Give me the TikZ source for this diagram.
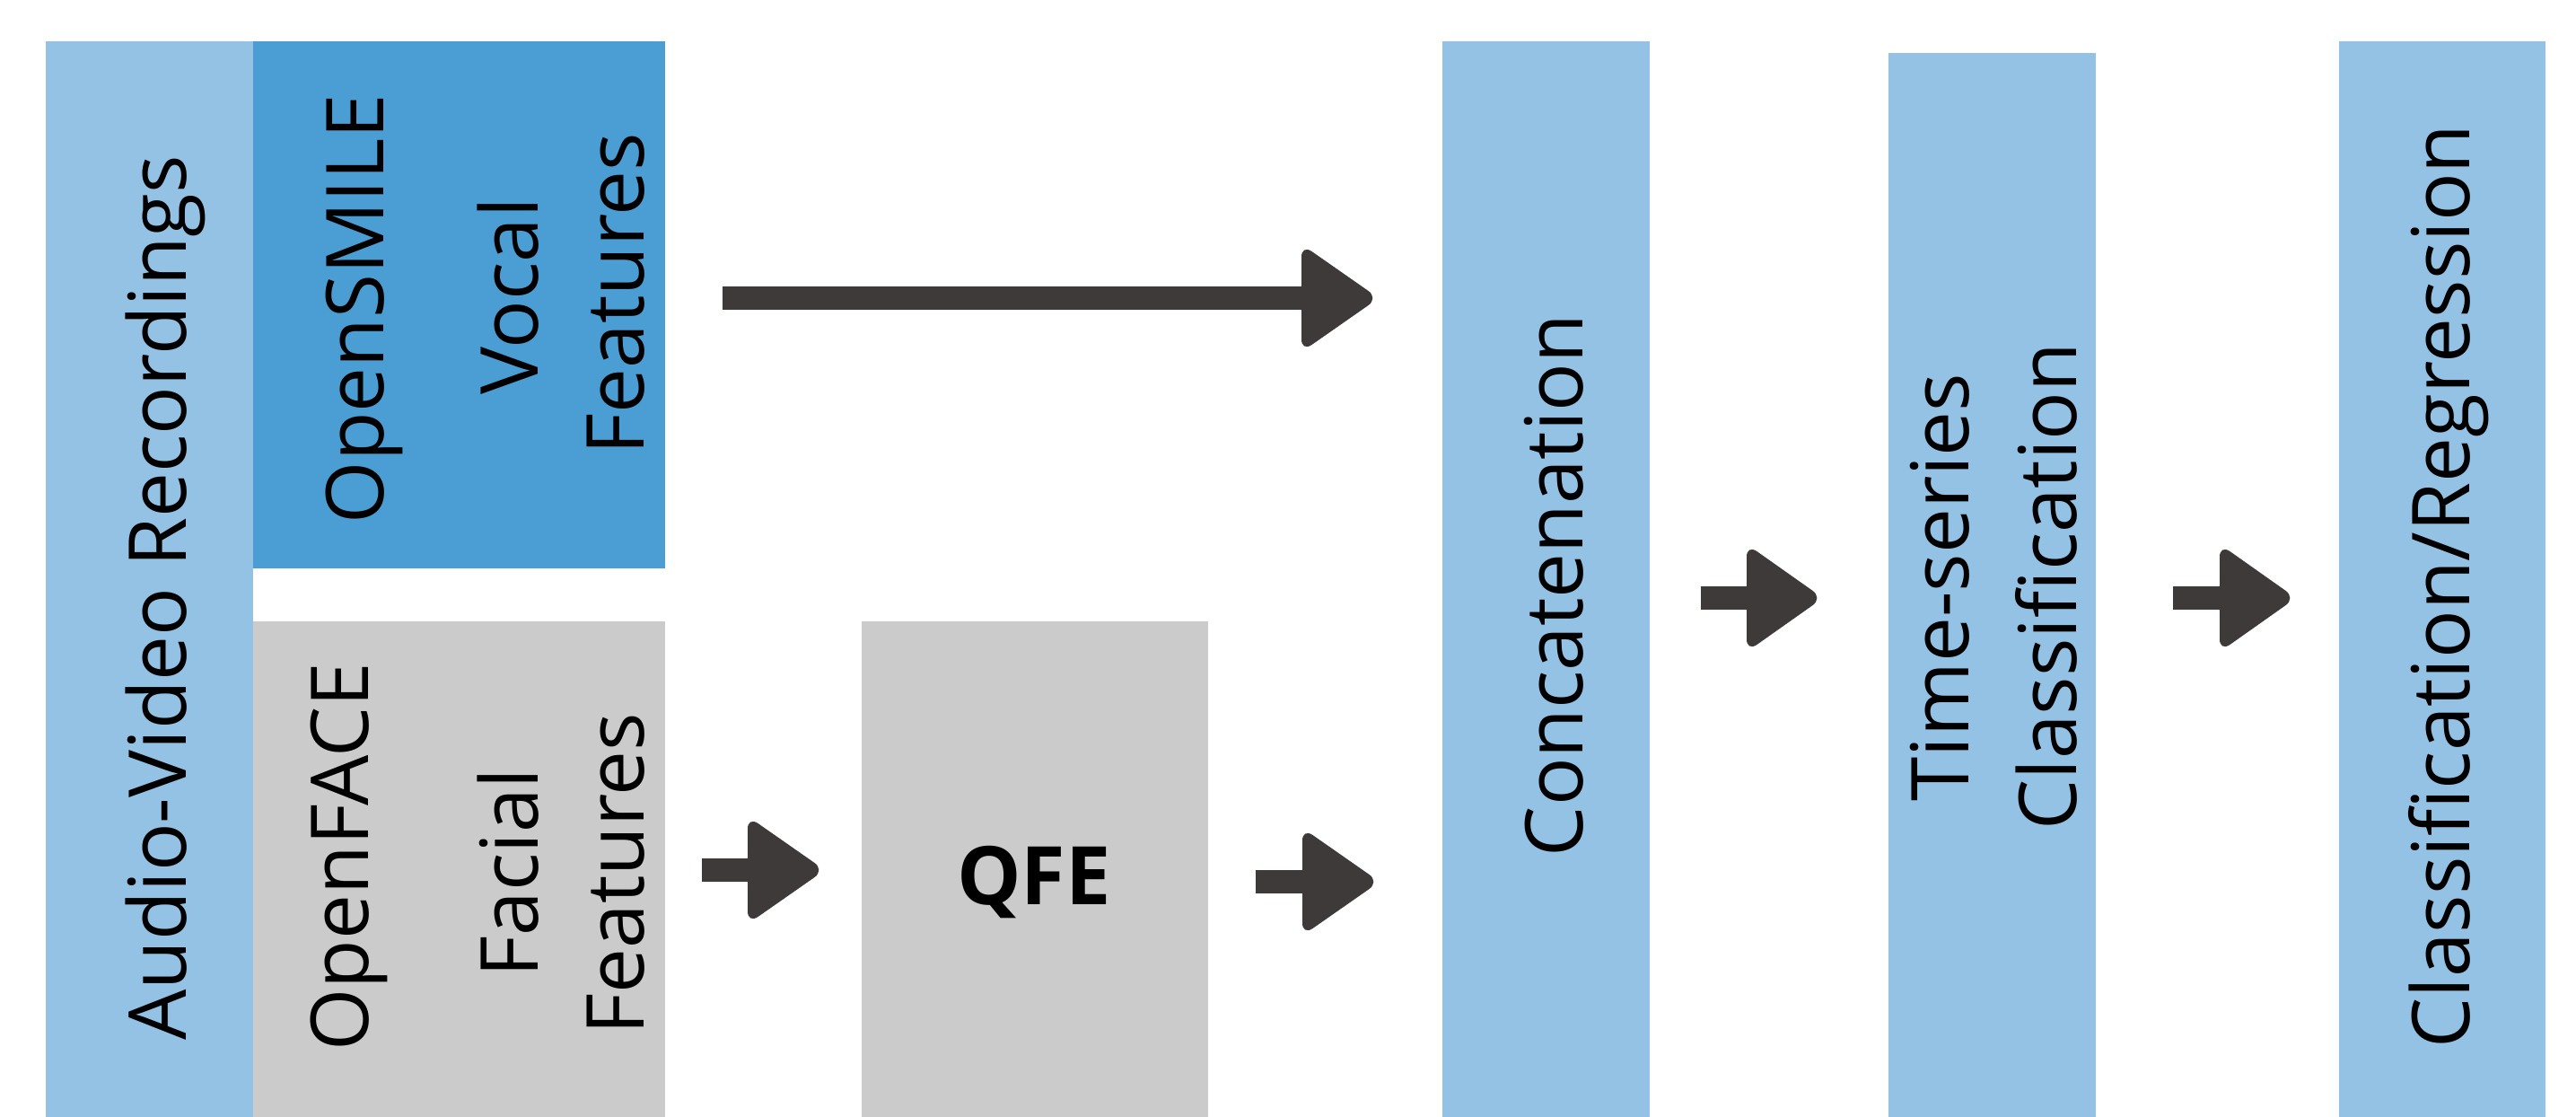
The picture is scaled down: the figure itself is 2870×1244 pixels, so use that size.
\documentclass[tikz,border=0pt]{standalone}
\usepackage{fontspec}
\setmainfont{Open Sans}
\usetikzlibrary{calc}
\definecolor{lightblue}{HTML}{93C2E4}
\definecolor{darkblue}{HTML}{4A9ED4}
\definecolor{boxgrey}{HTML}{CBCBCB}
\definecolor{arrowcol}{HTML}{3D3A39}
\begin{document}
\begin{tikzpicture}[x=1pt,y=-1pt,
  block/.style={inner sep=0pt, outer sep=0pt, anchor=north west},
  lbl/.style={rotate=90, anchor=base, inner sep=0pt, font=\fontsize{89}{106}\selectfont},
  hlbl/.style={anchor=base, inner sep=0pt, font=\fontsize{90}{108}\selectfont\bfseries}]
\useasboundingbox[fill=white] (0,0) rectangle (2870,1244);

% boxes
\node[block, fill=lightblue, minimum width=231, minimum height=1198] (audio) at (51,46) {};
\node[block, fill=darkblue, minimum width=459, minimum height=587] (opensmile) at (282,46) {};
\node[block, fill=boxgrey, minimum width=459, minimum height=552] (openface) at (282,692) {};
\node[block, fill=boxgrey, minimum width=386, minimum height=552] (qfe) at (960,692) {};
\node[block, fill=lightblue, minimum width=231, minimum height=1198] (concat) at (1607,46) {};
\node[block, fill=lightblue, minimum width=231, minimum height=1185] (timeser) at (2104,59) {};
\node[block, fill=lightblue, minimum width=230, minimum height=1198] (classreg) at (2606,46) {};

% labels
\node[lbl] (taudio) at (207,666) {Audio-Video Recordings};
\node[lbl] (tsmile1) at (427,344) {OpenSMILE};
\node[lbl] (tsmile2) at (599,330) {Vocal};
\node[lbl] (tsmile3) at (717,327) {Features};
\node[lbl] (tface1) at (410,954) {OpenFACE};
\node[lbl] (tface2) at (599,972) {Facial};
\node[lbl] (tface3) at (717,973) {Features};
\node[hlbl] (tqfe) at (1152,1007) {QFE};
\node[lbl] (tconcat) at (1763,652) {Concatenation};
\node[lbl] (tts1) at (2193,654) {Time-series};
\node[lbl] (tts2) at (2313,653) {Classification};
\node[lbl] (tcr) at (2751,653) {Classification/Regression};

% arrow coordinates: start of shaft, head base, tip
\coordinate (s1) at (805,332);  \coordinate (b1) at (1450,332); \coordinate (t1) at (1536,332);
\coordinate (s2) at (782,969);  \coordinate (b2) at (833,969);  \coordinate (t2) at (919,969);
\coordinate (s3) at (1399,982); \coordinate (b3) at (1451,982); \coordinate (t3) at (1537,982);
\coordinate (s4) at (1895,666); \coordinate (b4) at (1946,666); \coordinate (t4) at (2031,666);
\coordinate (s5) at (2421,666); \coordinate (b5) at (2473,666); \coordinate (t5) at (2558,666);

\foreach \i in {1,...,5}{
  \fill[arrowcol] ($(s\i)+(0,-13)$) rectangle ($(b\i)+(4,13)$);
  \fill[arrowcol, rounded corners=14] ($(b\i)+(0,-60)$) -- (t\i) -- ($(b\i)+(0,60)$) -- cycle;
}
\end{tikzpicture}
\end{document}
